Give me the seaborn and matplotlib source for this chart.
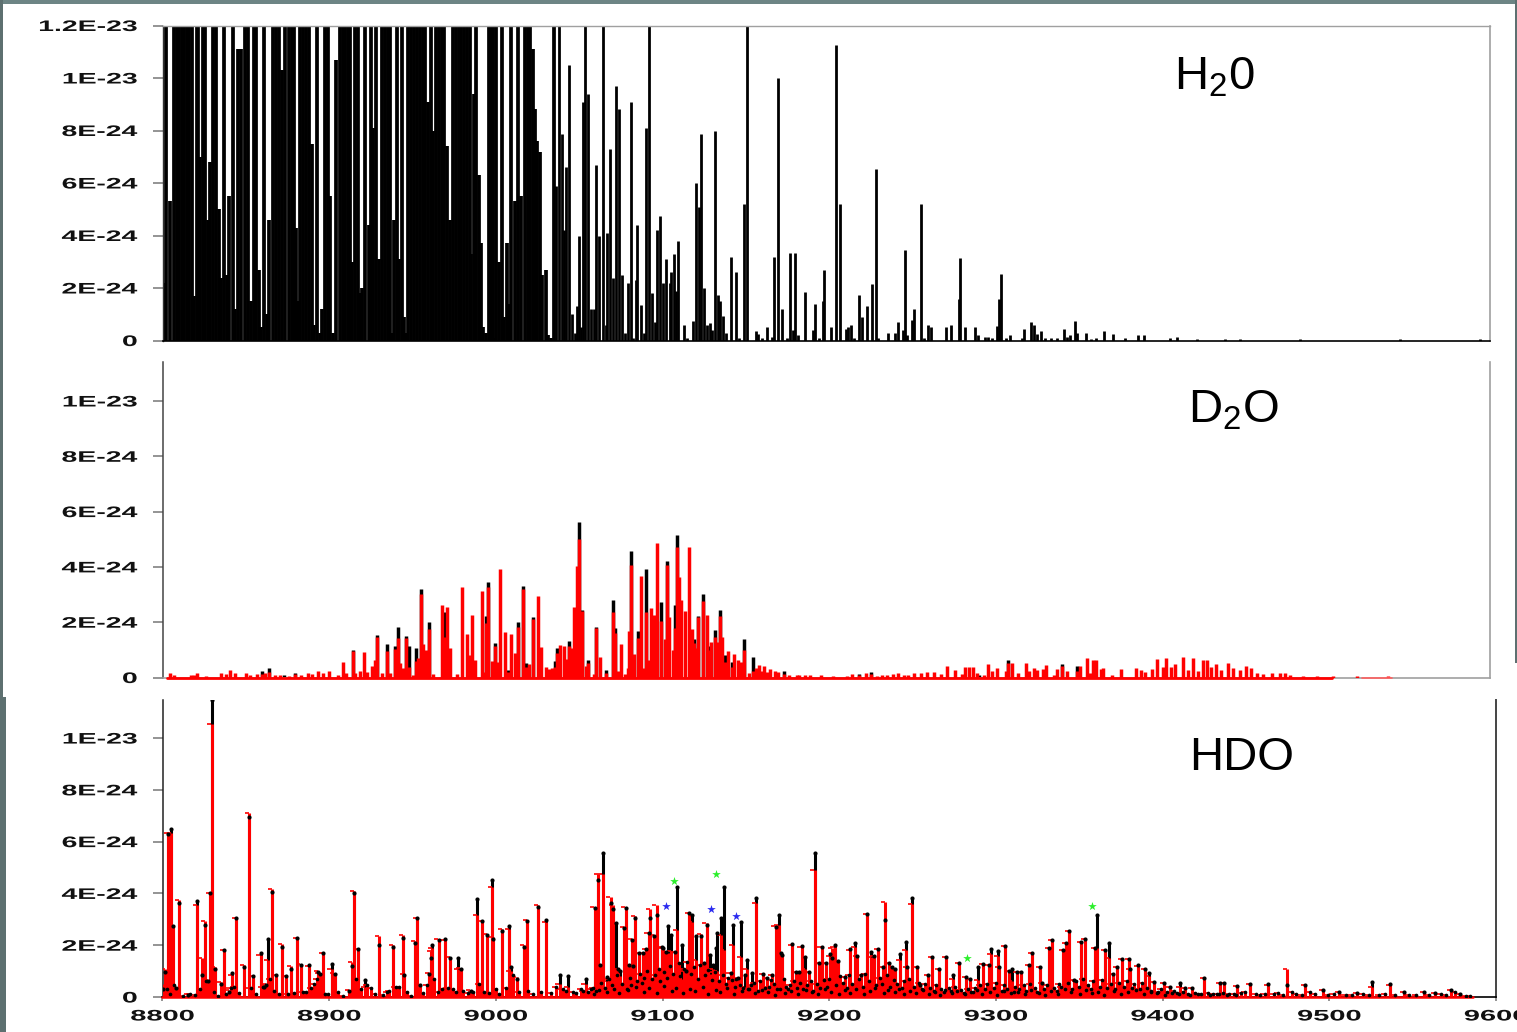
import numpy as np
import pandas as pd
import matplotlib
matplotlib.use("Agg")
import matplotlib.pyplot as plt
from matplotlib.patches import Rectangle
from matplotlib.patheffects import AbstractPathEffect
from matplotlib.transforms import Affine2D
import seaborn as sns

# ---- intensities are in units of 1E-24 ----
Y_TICKS_H2O = [0, 2, 4, 6, 8, 10, 12]
Y_LABELS_H2O = ["0", "2E-24", "4E-24", "6E-24", "8E-24", "1E-23", "1.2E-23"]
Y_TICKS = [0, 2, 4, 6, 8, 10]
Y_LABELS = ["0", "2E-24", "4E-24", "6E-24", "8E-24", "1E-23"]
X_TICKS = [8800, 8900, 9000, 9100, 9200, 9300, 9400, 9500, 9600]
X_LABELS = ["8800", "8900", "9000", "9100", "9200", "9300", "9400", "9500", "9600"]

H2O_wn = [8800.7, 8802.0, 8804.6, 8807.0, 8808.5, 8810.0, 8811.5, 8813.0, 8814.5, 8816.0, 8817.5, 8819.0,
          8820.5, 8821.4, 8822.9, 8824.4, 8825.5, 8827.2, 8828.5, 8830.4, 8832.4, 8833.8, 8835.3, 8837.3,
          8838.8, 8840.3, 8842.2, 8843.7, 8845.2, 8847.4, 8849.5, 8851.7, 8853.4, 8854.9, 8856.6, 8858.4,
          8859.4, 8861.0, 8862.7, 8864.4, 8866.3, 8868.5, 8870.2, 8871.9, 8874.1, 8876.0, 8878.0, 8879.5,
          8880.5, 8881.4, 8883.1, 8884.8, 8886.6, 8888.1, 8889.8, 8891.3, 8893.2, 8895.2, 8896.4, 8898.2,
          8899.7, 8901.0, 8902.5, 8904.6, 8906.8, 8908.5, 8910.2, 8912.0, 8913.0, 8914.5, 8916.2, 8917.7,
          8919.2, 8920.3, 8922.3, 8924.2, 8925.5, 8927.0, 8928.5, 8930.2, 8932.2, 8933.9, 8935.6, 8937.3,
          8938.6, 8939.7, 8941.2, 8942.5, 8944.2, 8945.5, 8946.6, 8948.1, 8949.8, 8951.5, 8953.2, 8955.0,
          8956.7, 8958.4, 8960.1, 8961.6, 8963.1, 8964.8, 8966.5, 8968.3, 8969.8, 8971.7, 8973.2, 8975.0,
          8976.7, 8978.4, 8980.1, 8981.9, 8983.6, 8985.1, 8986.2, 8987.7, 8989.2, 8990.7, 8992.0, 8993.3,
          8995.0, 8996.5, 8998.0, 8999.1, 9000.0, 9001.0, 9003.0, 9004.5, 9005.8, 9007.5, 9009.0, 9010.3,
          9012.5, 9014.4, 9016.2, 9018.2, 9020.0, 9021.4, 9023.0, 9024.5, 9025.6, 9027.2, 9029.0, 9030.9,
          9032.6, 9033.9, 9035.9, 9037.4, 9038.9, 9040.8, 9042.1, 9043.4, 9044.9, 9046.6, 9048.6, 9049.6,
          9050.7, 9052.0, 9053.7, 9054.6, 9056.7, 9058.2, 9060.0, 9061.5, 9063.2, 9065.6, 9067.1, 9067.9,
          9069.4, 9071.4, 9073.5, 9075.2, 9076.7, 9078.5, 9080.4, 9082.3, 9083.8, 9085.1, 9086.2, 9088.4,
          9090.1, 9091.4, 9093.3, 9095.2, 9096.7, 9098.0, 9100.0, 9101.7, 9103.2, 9105.6, 9106.6, 9108.1,
          9109.7, 9110.9, 9114.0, 9116.1, 9119.8, 9121.7, 9123.2, 9124.7, 9126.2, 9128.4, 9129.7, 9131.2,
          9132.7, 9134.6, 9135.9, 9137.6, 9139.6, 9142.6, 9145.6, 9147.7, 9150.5, 9152.5, 9157.4, 9158.7,
          9161.5, 9164.3, 9167.5, 9168.4, 9171.2, 9173.1, 9176.3, 9178.3, 9180.0, 9181.1, 9183.0, 9187.1,
          9191.8, 9193.1, 9195.5, 9198.1, 9198.9, 9202.8, 9205.8, 9208.0, 9211.8, 9213.1, 9214.8, 9217.0,
          9219.6, 9221.7, 9224.5, 9227.5, 9229.7, 9231.2, 9237.4, 9241.3, 9243.4, 9246.0, 9247.3, 9248.6,
          9251.4, 9253.1, 9257.2, 9259.2, 9261.1, 9263.0, 9272.0, 9275.1, 9279.8, 9280.9, 9283.9, 9289.7,
          9291.2, 9295.5, 9297.4, 9299.6, 9302.6, 9304.3, 9305.4, 9308.4, 9310.6, 9318.1, 9319.4, 9323.2,
          9325.4, 9327.1, 9329.3, 9331.6, 9335.3, 9339.2, 9343.2, 9345.0, 9347.1, 9350.1, 9351.2, 9356.8,
          9359.6, 9362.4, 9367.5, 9372.9, 9380.1, 9388.0, 9391.6, 9407.2, 9411.4, 9423.5, 9440.4, 9449.4,
          9485.5, 9545.8, 9594.0]
H2O_int = [2.2, 14, 5.3, 14, 14, 14, 14, 14, 14, 14, 14, 1.7,
           14, 14, 7.0, 14, 14, 4.6, 6.8, 14, 14, 5.0, 2.4, 14,
           2.5, 5.5, 14, 1.2, 11.1, 11.1, 14, 14, 1.5, 14, 14, 2.7,
           0.5, 14, 1.0, 4.6, 14, 14, 14, 10.3, 14, 14, 14, 14,
           4.3, 1.5, 14, 14, 14, 14, 7.5, 0.6, 14, 0.3, 1.2, 14,
           14, 5.5, 0.3, 10.7, 14, 14, 14, 14, 14, 3.0, 14, 14,
           1.8, 2.0, 14, 4.4, 14, 8.1, 14, 3.1, 14, 14, 14, 14,
           0.3, 4.6, 14, 3.1, 14, 0.9, 0.3, 14, 14, 14, 14, 14,
           14, 14, 9.1, 14, 8.0, 14, 14, 14, 14, 7.4, 4.6, 14,
           14, 14, 14, 14, 14, 14, 3.3, 9.4, 14, 6.3, 3.7, 0.5,
           0.3, 14, 14, 14, 0.1, 14, 3.0, 14, 0.9, 3.7, 1.4, 14,
           5.3, 14, 5.5, 14, 14, 14, 11.1, 8.8, 7.6, 7.2, 2.5, 2.7,
           0.2, 0.1, 14, 5.9, 14, 7.85, 4.2, 6.6, 10.5, 1.0, 0.3, 1.3,
           4.0, 0.5, 9.1, 14, 9.4, 1.2, 1.2, 6.7, 4.0, 14, 0.6, 4.1,
           7.3, 2.4, 9.7, 8.8, 2.5, 0.3, 2.2, 9.1, 0.1, 2.3, 4.4, 1.35,
           0.3, 8.1, 14, 1.8, 0.7, 4.2, 4.75, 2.2, 3.1, 2.2, 2.6, 3.3,
           1.9, 3.8, 0.6, 0.1, 0.75, 6.0, 5.1, 7.85, 2.0, 0.6, 0.65, 0.4,
           8.0, 1.75, 1.5, 0.95, 0.3, 3.2, 2.6, 0.1, 5.2, 14, 0.35, 0.25,
           0.1, 0.5, 0.15, 3.2, 10.0, 1.2, 0.1, 3.35, 0.4, 3.35, 0.2, 1.85,
           0.4, 1.4, 0.1, 1.5, 2.7, 0.5, 11.25, 5.2, 0.45, 0.5, 0.6, 0.1,
           1.75, 0.9, 1.3, 2.15, 6.55, 0.1, 0.3, 0.3, 0.7, 0.4, 3.45, 0.2,
           0.8, 1.2, 5.2, 0.1, 0.6, 0.5, 0.5, 0.6, 1.6, 3.15, 0.5, 0.5,
           0.2, 0.15, 0.12, 0.1, 0.55, 1.6, 2.55, 0.1, 0.2, 0.1, 0.45, 0.7,
           0.6, 0.25, 0.35, 0.1, 0.1, 0.1, 0.45, 0.15, 0.2, 0.75, 0.3, 0.3,
           0.07, 0.1, 0.35, 0.25, 0.1, 0.2, 0.2, 0.1, 0.15, 0.06, 0.05, 0.05,
           0.04, 0.04, 0.04]

D2O_wn = [8804.8, 8806.9, 8816.9, 8818.9, 8820.5, 8826.5, 8835.4, 8838.4, 8840.4, 8843.4, 8850.2, 8853.0,
          8857.0, 8860.0, 8862.0, 8864.1, 8867.5, 8870.7, 8876.1, 8879.9, 8883.6, 8887.5, 8890.1, 8893.7,
          8896.6, 8900.6, 8905.8, 8908.6, 8910.6, 8914.6, 8916.2, 8919.2, 8921.3, 8923.3, 8926.3, 8927.9,
          8929.3, 8932.1, 8935.3, 8937.3, 8940.1, 8942.1, 8943.3, 8945.1, 8947.0, 8948.6, 8950.8, 8953.0,
          8954.2, 8955.8, 8957.2, 8959.0, 8960.8, 8962.8, 8968.6, 8970.0, 8971.7, 8973.5, 8977.5, 8980.5,
          8983.7, 8984.9, 8986.5, 8988.5, 8992.5, 8993.9, 8995.1, 8996.4, 8998.6, 9000.4, 9001.6, 9003.4,
          9006.4, 9008.0, 9010.2, 9012.2, 9014.2, 9017.0, 9019.2, 9021.1, 9023.0, 9026.1, 9028.1, 9031.1,
          9033.1, 9034.7, 9036.3, 9037.9, 9039.7, 9041.7, 9043.3, 9044.9, 9046.1, 9047.8, 9049.8, 9050.8,
          9052.8, 9055.4, 9056.6, 9060.2, 9061.4, 9063.6, 9067.2, 9071.5, 9072.7, 9074.3, 9076.5, 9078.5,
          9080.3, 9081.1, 9082.5, 9084.3, 9086.3, 9088.5, 9089.9, 9091.3, 9092.3, 9094.3, 9096.3, 9098.2,
          9100.2, 9102.8, 9104.0, 9105.4, 9107.4, 9108.6, 9110.0, 9111.4, 9112.4, 9114.8, 9117.0, 9119.0,
          9120.2, 9121.0, 9122.9, 9125.9, 9127.9, 9129.3, 9130.7, 9132.7, 9134.1, 9135.7, 9137.1, 9138.9,
          9140.7, 9143.3, 9144.7, 9146.6, 9148.8, 9150.6, 9153.2, 9155.6, 9157.6, 9159.4, 9161.2, 9162.4,
          9164.2, 9166.2, 9169.2, 9171.2, 9174.3, 9177.3, 9182.3, 9183.3, 9187.3, 9190.0, 9196.8, 9203.8,
          9212.8, 9215.6, 9219.7, 9223.7, 9226.7, 9230.5, 9233.5, 9236.5, 9240.1, 9243.2, 9246.6, 9249.0,
          9253.0, 9257.2, 9261.0, 9265.0, 9269.1, 9272.9, 9277.7, 9281.7, 9283.7, 9285.9, 9288.7, 9290.7,
          9294.8, 9297.6, 9299.8, 9302.6, 9308.2, 9309.6, 9312.2, 9315.6, 9320.5, 9322.3, 9325.3, 9327.3,
          9330.9, 9332.3, 9337.0, 9339.1, 9342.2, 9345.0, 9351.0, 9352.9, 9357.0, 9359.2, 9360.6, 9362.4,
          9365.4, 9367.0, 9372.0, 9377.4, 9386.7, 9389.5, 9392.3, 9396.3, 9399.3, 9402.8, 9405.0, 9407.8,
          9410.4, 9415.0, 9418.0, 9421.0, 9424.2, 9427.2, 9429.3, 9431.9, 9435.1, 9437.7, 9442.1, 9445.3,
          9449.5, 9452.7, 9455.8, 9459.4, 9463.4, 9468.4, 9473.4, 9476.4, 9479.5, 9487.5, 9495.5, 9505.6,
          9519.6, 9538.7]
D2O_red = [0.16, 0.08, 0.08, 0.09, 0.17, 0.06, 0.17, 0.12, 0.27, 0.16, 0.17, 0.1,
           0.12, 0.14, 0.16, 0.2, 0.08, 0.08, 0.07, 0.13, 0.1, 0.15, 0.11, 0.22,
           0.15, 0.25, 0.1, 0.55, 0.15, 0.96, 0.15, 0.24, 0.93, 0.19, 0.42, 0.63,
           1.48, 0.17, 0.96, 0.17, 1.03, 1.44, 0.51, 0.33, 1.44, 0.39, 0.09, 0.58,
           0.72, 3.03, 1.21, 0.99, 1.74, 0.11, 2.63, 1.45, 2.55, 1.07, 0.11, 3.27,
           1.56, 0.81, 2.27, 0.62, 3.13, 0.21, 1.98, 3.29, 0.6, 1.14, 0.57, 3.91,
           1.63, 0.19, 1.56, 0.87, 1.84, 3.21, 0.39, 0.48, 2.13, 2.96, 1.1, 0.37,
           0.3, 0.36, 0.39, 0.9, 1.19, 1.15, 0.66, 1.14, 1.05, 2.54, 4.03, 5.0,
           2.41, 0.42, 0.54, 0.12, 1.78, 0.73, 0.16, 2.38, 1.6, 0.22, 1.2, 0.12,
           0.33, 1.69, 4.07, 0.84, 1.44, 3.67, 0.33, 2.38, 0.63, 2.5, 2.26, 4.85,
           2.06, 1.38, 4.07, 2.2, 0.99, 1.79, 4.73, 3.63, 2.8, 2.41, 4.73, 1.75,
           1.24, 1.05, 2.19, 2.77, 2.27, 1.0, 1.27, 1.45, 1.27, 2.22, 1.45, 0.57,
           0.95, 0.39, 0.84, 0.63, 0.57, 0.98, 0.17, 0.24, 0.33, 0.46, 0.25, 0.43,
           0.2, 0.32, 0.22, 0.19, 0.12, 0.08, 0.08, 0.08, 0.09, 0.08, 0.08, 0.05,
           0.06, 0.13, 0.08, 0.16, 0.13, 0.07, 0.09, 0.08, 0.12, 0.16, 0.08, 0.08,
           0.17, 0.17, 0.19, 0.19, 0.14, 0.42, 0.27, 0.12, 0.39, 0.39, 0.39, 0.17,
           0.08, 0.48, 0.22, 0.36, 0.24, 0.54, 0.52, 0.18, 0.54, 0.22, 0.36, 0.28,
           0.3, 0.47, 0.08, 0.3, 0.42, 0.23, 0.22, 0.42, 0.7, 0.16, 0.63, 0.63,
           0.3, 0.36, 0.1, 0.3, 0.36, 0.28, 0.2, 0.3, 0.66, 0.37, 0.72, 0.37,
           0.48, 0.73, 0.28, 0.72, 0.22, 0.64, 0.64, 0.37, 0.5, 0.28, 0.52, 0.34,
           0.28, 0.42, 0.34, 0.18, 0.12, 0.16, 0.16, 0.16, 0.1, 0.06, 0.07, 0.05,
           0.04, 0.05]
D2O_black_wn = [8860.0, 8864.1, 8879.9, 8914.6, 8929.3, 8935.3, 8940.1, 8942.1, 8947.0, 8948.6, 8953.0, 8955.8,
                8960.8, 8970.0, 8995.1, 8996.4, 9000.4, 9008.0, 9014.2, 9017.0, 9019.2, 9023.0, 9036.3, 9037.9,
                9044.9, 9050.8, 9052.8, 9056.6, 9061.4, 9067.2, 9071.5, 9072.7, 9082.5, 9086.3, 9091.3, 9100.2,
                9104.0, 9108.6, 9110.0, 9120.2, 9122.9, 9125.9, 9129.3, 9132.7, 9135.7, 9138.9, 9143.3, 9150.6,
                9155.6, 9174.3, 9219.7, 9226.7, 9309.6, 9342.2, 9351.0, 8873.0, 9292.0]
D2O_black = [0.23, 0.34, 0.16, 0.99, 1.54, 1.21, 1.14, 1.81, 1.5, 1.15, 1.05, 3.2,
             2.0, 2.38, 2.21, 3.44, 1.24, 0.26, 2.0, 3.31, 0.54, 2.18, 0.58, 1.08,
             1.33, 5.64, 2.44, 0.63, 1.81, 0.26, 2.8, 1.8, 4.56, 1.68, 3.91, 2.72,
             4.21, 2.62, 5.15, 1.4, 2.24, 3.02, 1.14, 1.72, 2.45, 0.81, 0.57, 1.4,
             0.73, 0.24, 0.13, 0.2, 0.64, 0.48, 0.42, 0.08, 0.1]

HDO_wn = [8800.5, 8801.4, 8803.5, 8805.0, 8806.1, 8807.8, 8809.9, 8815.3, 8820.9, 8823.9, 8825.4, 8827.1,
          8828.6, 8829.4, 8831.4, 8835.2, 8836.7, 8839.9, 8841.7, 8844.2, 8849.0, 8851.7, 8854.5, 8858.8,
          8861.0, 8862.0, 8863.1, 8865.9, 8867.8, 8871.5, 8873.8, 8877.0, 8880.7, 8882.8, 8887.7, 8893.5,
          8894.2, 8896.5, 8901.4, 8903.2, 8911.7, 8913.7, 8914.9, 8917.1, 8921.4, 8930.0, 8938.5, 8944.1,
          8945.0, 8951.4, 8952.5, 8954.6, 8960.0, 8961.1, 8961.9, 8965.6, 8969.6, 8972.4, 8977.1, 8978.8,
          8984.8, 8988.5, 8991.7, 8994.7, 8997.7, 8998.5, 9003.9, 9007.7, 9008.8, 9012.4, 9016.9, 9018.8,
          9025.3, 9030.2, 9038.2, 9043.5, 9053.8, 9059.2, 9061.2, 9062.4, 9064.0, 9066.4, 9068.8, 9070.2,
          9071.8, 9073.2, 9074.4, 9076.8, 9077.8, 9079.8, 9081.8, 9082.4, 9083.4, 9085.8, 9088.2, 9090.0,
          9091.6, 9092.4, 9094.8, 9096.4, 9099.4, 9100.2, 9101.8, 9103.4, 9105.2, 9107.4, 9108.8, 9111.6,
          9113.8, 9115.8, 9117.8, 9120.0, 9123.2, 9124.8, 9126.4, 9128.4, 9130.4, 9132.0, 9132.8, 9135.2,
          9137.0, 9140.8, 9142.4, 9145.2, 9147.2, 9149.2, 9150.8, 9153.8, 9156.0, 9160.2, 9162.8, 9165.8,
          9167.8, 9169.6, 9170.8, 9171.8, 9177.8, 9179.8, 9181.8, 9183.4, 9185.4, 9187.8, 9191.2, 9193.6,
          9195.4, 9197.8, 9200.4, 9201.8, 9203.2, 9205.0, 9209.7, 9212.7, 9215.3, 9216.7, 9219.1, 9222.7,
          9225.3, 9226.7, 9229.1, 9232.1, 9233.7, 9235.7, 9237.7, 9239.7, 9242.3, 9246.1, 9246.7, 9249.7,
          9252.5, 9254.7, 9259.1, 9261.7, 9265.7, 9270.3, 9274.1, 9277.7, 9282.3, 9284.7, 9289.1, 9292.1,
          9295.7, 9297.3, 9301.1, 9302.1, 9305.7, 9307.7, 9309.7, 9312.7, 9315.3, 9319.7, 9321.7, 9326.3,
          9327.7, 9332.1, 9333.7, 9340.3, 9342.1, 9344.1, 9346.7, 9351.3, 9353.3, 9359.7, 9360.9, 9365.7,
          9368.1, 9370.1, 9372.7, 9375.7, 9379.7, 9380.7, 9385.1, 9389.7, 9391.7, 9395.1, 9400.7, 9404.7,
          9410.3, 9413.7, 9417.7, 9425.1, 9434.7, 9437.1, 9444.7, 9452.3, 9463.1, 9474.9, 9485.7, 9496.3,
          9505.7, 9516.7, 9525.7, 9536.3, 9544.7, 9556.7, 9563.7, 9573.3, 9578.7]
HDO_red = [0.5, 1.07, 6.35, 6.35, 2.7, 0.4, 3.76, 0.12, 3.57, 1.5, 2.92, 0.66,
           4.0, 10.56, 1.15, 0.57, 1.82, 0.27, 0.85, 3.05, 1.23, 7.1, 0.81, 1.63,
           0.47, 0.5, 1.44, 4.18, 0.85, 2.06, 0.81, 1.18, 2.28, 1.27, 1.18, 1.02,
           0.92, 1.69, 1.07, 0.94, 0.27, 1.37, 4.11, 1.85, 0.4, 2.34, 1.99, 2.39,
           0.9, 2.15, 3.05, 0.47, 0.92, 1.79, 1.9, 2.25, 2.21, 1.53, 1.1, 1.11,
           0.27, 3.18, 2.95, 2.45, 4.26, 2.3, 2.64, 2.64, 1.0, 0.76, 2.02, 2.99,
           3.57, 2.9, 0.5, 0.4, 0.49, 3.49, 4.75, 1.23, 4.75, 0.6, 3.87, 3.55,
           1.1, 1.07, 0.8, 2.7, 3.49, 1.24, 2.23, 1.2, 3.13, 1.71, 1.71, 1.85,
           2.46, 3.38, 2.4, 3.55, 1.94, 1.88, 1.75, 1.69, 1.77, 1.73, 2.59, 0.7,
           1.0, 3.26, 2.9, 1.43, 2.43, 1.3, 2.84, 0.9, 1.1, 1.0, 1.0, 2.39,
           1.8, 0.94, 2.0, 0.72, 1.56, 0.4, 1.1, 0.4, 3.64, 0.89, 0.75, 0.85,
           2.74, 2.78, 1.69, 1.62, 2.0, 0.98, 0.98, 1.92, 1.1, 0.98, 4.9, 1.33,
           1.92, 1.3, 1.6, 1.9, 1.95, 1.4, 0.76, 1.8, 1.95, 1.58, 0.85, 3.19,
           1.56, 1.58, 1.85, 1.15, 3.68, 1.3, 1.15, 1.1, 1.43, 1.81, 1.15, 3.58,
           1.15, 0.46, 0.85, 1.56, 1.1, 1.53, 0.7, 1.3, 0.76, 0.7, 0.66, 1.26,
           1.24, 1.66, 1.58, 1.15, 1.97, 1.0, 0.6, 0.98, 0.98, 1.24, 1.71, 1.17,
           0.53, 1.88, 2.2, 1.81, 2.1, 2.56, 0.66, 2.14, 2.23, 1.88, 1.9, 1.81,
           1.5, 0.89, 1.15, 1.45, 1.45, 1.07, 1.21, 1.1, 0.8, 0.59, 0.53, 0.4,
           0.4, 0.33, 0.33, 0.72, 0.55, 0.55, 0.42, 0.5, 0.45, 1.07, 0.46, 0.27,
           0.18, 0.17, 0.4, 0.45, 0.18, 0.18, 0.14, 0.27, 0.1]
HDO_black = [0.3, 0.98, 6.3, 6.48, 2.73, 0.35, 3.64, 0.08, 3.7, 0.85, 2.79, 0.6,
             4.0, 11.46, 1.1, 0.5, 1.8, 0.2, 0.92, 3.05, 1.15, 6.97, 0.81, 1.69,
             0.4, 0.45, 2.25, 4.05, 0.85, 1.93, 0.8, 1.07, 2.28, 1.24, 1.23, 0.95,
             0.9, 1.69, 1.28, 0.9, 0.25, 1.2, 4.02, 1.85, 0.66, 2.02, 1.95, 2.28,
             0.85, 2.08, 3.05, 0.45, 0.9, 1.5, 2.02, 2.21, 2.25, 1.5, 1.5, 1.1,
             0.25, 3.8, 2.92, 2.4, 4.51, 2.25, 2.56, 2.73, 1.15, 0.7, 1.95, 2.95,
             3.48, 2.99, 0.85, 0.83, 0.68, 3.45, 4.5, 1.23, 5.57, 0.79, 3.64, 3.38,
             2.84, 1.07, 1.02, 2.68, 3.42, 1.24, 2.2, 1.2, 3.04, 1.71, 1.71, 1.85,
             2.46, 3.04, 2.35, 3.17, 1.94, 1.88, 1.75, 2.74, 2.39, 1.73, 4.23, 2.0,
             1.0, 3.26, 3.17, 2.36, 2.36, 1.3, 2.78, 1.62, 1.24, 1.88, 2.48, 3.04,
             4.26, 0.94, 2.78, 0.72, 2.91, 0.85, 1.43, 0.94, 3.84, 0.89, 0.75, 0.85,
             2.7, 3.17, 1.69, 1.62, 2.05, 0.98, 0.98, 1.97, 1.56, 0.98, 5.57, 1.33,
             1.92, 1.3, 1.66, 1.5, 2.0, 1.4, 0.76, 1.87, 2.1, 1.58, 0.85, 3.19,
             1.72, 1.58, 1.85, 1.15, 2.99, 1.3, 1.15, 1.1, 1.66, 2.14, 1.15, 3.84,
             1.15, 0.46, 0.85, 1.56, 1.1, 1.53, 0.85, 1.3, 0.76, 0.7, 1.15, 1.26,
             1.24, 1.85, 1.79, 1.15, 1.97, 1.0, 1.1, 0.98, 0.98, 1.24, 1.71, 1.17,
             0.53, 1.88, 2.2, 1.81, 2.1, 2.56, 0.66, 2.14, 2.23, 1.88, 3.17, 1.81,
             2.07, 0.89, 1.15, 1.45, 1.45, 1.07, 1.24, 1.1, 0.91, 0.59, 0.53, 0.4,
             0.53, 0.33, 0.33, 0.72, 0.55, 0.55, 0.42, 0.5, 0.5, 0.45, 0.46, 0.27,
             0.18, 0.17, 0.59, 0.5, 0.18, 0.18, 0.14, 0.27, 0.1]

# low-lying HDO lines (read as an envelope with individual bumps)
GRASS_wn = [8802.6, 8804.2, 8807.0, 8812.0, 8816.5, 8819.5, 8822.5, 8826.0, 8830.6, 8833.2, 8838.0, 8840.8,
            8843.0, 8846.0, 8852.8, 8856.0, 8860.0, 8864.5, 8866.8, 8870.0, 8875.0, 8879.0, 8884.5, 8886.0,
            8889.0, 8891.0, 8892.5, 8897.5, 8899.0, 8905.0, 8908.0, 8915.8, 8919.0, 8922.8, 8925.0, 8927.5,
            8932.0, 8934.5, 8936.0, 8939.8, 8942.0, 8946.5, 8949.0, 8956.0, 8958.5, 8963.0, 8965.0, 8967.5,
            8971.0, 8974.0, 8976.0, 8980.0, 8983.0, 8986.0, 8990.0, 8993.0, 8996.0, 9000.0, 9002.0, 9006.0,
            9010.0, 9014.0, 9019.0, 9022.0, 9027.0, 9033.0, 9036.0, 9040.0, 9042.0, 9046.0, 9048.0, 9051.0,
            9052.4, 9055.2, 9056.8, 9058.1, 9060.3, 9063.0, 9065.4, 9067.6, 9069.5, 9072.5, 9075.6, 9078.7,
            9080.6, 9081.0, 9084.6, 9086.7, 9087.5, 9089.1, 9090.9, 9093.6, 9095.7, 9097.6, 9098.4, 9101.0,
            9102.6, 9104.3, 9106.2, 9109.8, 9110.7, 9112.7, 9114.8, 9116.9, 9118.9, 9121.3, 9122.2, 9125.6,
            9127.5, 9129.4, 9131.2, 9133.9, 9136.1, 9138.2, 9139.5, 9141.6, 9143.5, 9144.3, 9146.2, 9148.3,
            9151.9, 9152.9, 9154.9, 9157.1, 9158.6, 9161.4, 9163.9, 9164.8, 9166.9, 9168.7, 9172.9, 9174.1,
            9175.4, 9176.6, 9178.8, 9180.8, 9182.6, 9184.4, 9186.6, 9188.9, 9190.1, 9192.4, 9194.5, 9196.6,
            9198.9, 9199.6, 9204.1, 9206.3, 9208.2, 9210.9, 9211.8, 9213.9, 9217.9, 9220.3, 9221.4, 9223.9,
            9228.0, 9230.6, 9231.4, 9234.6, 9236.6, 9238.6, 9240.8, 9243.6, 9244.8, 9247.9, 9250.8, 9253.9,
            9255.9, 9257.4, 9260.3, 9262.9, 9264.3, 9267.1, 9268.6, 9271.8, 9272.9, 9275.6, 9279.3, 9280.8,
            9283.5, 9286.2, 9287.6, 9290.3, 9293.7, 9294.6, 9298.8, 9299.9, 9303.4, 9304.6, 9306.8, 9310.8,
            9311.7, 9314.1, 9316.6, 9318.3, 9320.6, 9323.2, 9324.9, 9328.9, 9330.6, 9334.9, 9336.4, 9338.1,
            9339.3, 9343.1, 9345.6, 9348.1, 9349.9, 9352.2, 9355.1, 9356.9, 9358.4, 9362.3, 9363.6, 9366.8,
            9369.2, 9371.3, 9374.1, 9376.9, 9378.4, 9381.8, 9383.1, 9386.7, 9387.9, 9390.6, 9393.3, 9397.2,
            9399.1, 9402.4, 9406.6, 9408.8, 9412.2, 9415.4, 9419.7, 9422.9, 9427.1, 9430.4, 9432.6, 9436.2,
            9439.7, 9442.8, 9446.9, 9449.3, 9455.8, 9458.6, 9461.2, 9466.7, 9469.4, 9472.1, 9477.6, 9480.3,
            9483.4, 9488.2, 9491.5, 9499.3, 9502.6, 9509.8, 9513.4, 9520.1, 9523.6, 9529.8, 9533.4, 9539.6,
            9547.8, 9552.1, 9559.9, 9566.8, 9570.2, 9575.7, 9581.9, 9584.7]
GRASS = [0.3, 0.1, 0.45, 0.05, 0.1, 0.08, 0.3, 0.6, 0.2, 0.05, 0.1, 0.35,
         0.4, 0.15, 0.35, 0.1, 0.4, 0.7, 0.25, 0.1, 0.12, 0.15, 0.2, 0.2,
         0.35, 0.5, 0.7, 0.1, 0.1, 0.2, 0.05, 0.7, 0.3, 0.45, 0.35, 0.1,
         0.08, 0.2, 0.25, 0.4, 0.4, 0.2, 0.05, 0.15, 0.45, 0.7, 0.2, 0.3,
         0.35, 0.3, 0.2, 0.25, 0.15, 0.2, 0.5, 0.2, 0.15, 0.3, 0.1, 0.35,
         0.85, 0.2, 0.25, 0.1, 0.2, 0.15, 0.4, 0.3, 0.25, 0.2, 0.15, 0.3,
         0.25, 0.18, 0.3, 0.35, 0.22, 0.55, 0.35, 0.7, 0.45, 0.85, 0.5, 0.3,
         0.75, 0.45, 0.6, 0.9, 0.55, 0.75, 1.0, 0.7, 0.85, 1.1, 0.6, 0.95,
         0.75, 1.2, 0.9, 1.3, 0.8, 1.1, 1.35, 0.9, 1.15, 0.7, 1.25, 0.85,
         1.05, 0.65, 0.95, 0.6, 0.85, 0.5, 0.75, 0.65, 0.4, 0.7, 0.45, 0.35,
         0.3, 0.45, 0.55, 0.25, 0.6, 0.35, 0.4, 0.65, 0.5, 0.3, 0.7, 0.4,
         0.3, 0.45, 0.6, 0.35, 0.55, 0.3, 0.45, 0.6, 0.25, 0.5, 0.35, 0.65,
         0.4, 0.7, 0.45, 0.8, 0.55, 0.35, 0.85, 0.5, 0.7, 0.4, 0.9, 0.6,
         0.45, 0.75, 0.5, 0.85, 0.4, 0.65, 0.5, 0.35, 0.6, 0.7, 0.4, 0.55,
         0.3, 0.5, 0.35, 0.25, 0.45, 0.3, 0.2, 0.35, 0.25, 0.4, 0.28, 0.15,
         0.3, 0.2, 0.35, 0.45, 0.3, 0.5, 0.35, 0.55, 0.25, 0.45, 0.3, 0.2,
         0.4, 0.3, 0.45, 0.25, 0.5, 0.35, 0.2, 0.3, 0.45, 0.35, 0.25, 0.5,
         0.4, 0.55, 0.3, 0.6, 0.4, 0.7, 0.45, 0.3, 0.6, 0.4, 0.65, 0.35,
         0.5, 0.3, 0.55, 0.4, 0.6, 0.35, 0.5, 0.3, 0.55, 0.35, 0.25, 0.2,
         0.3, 0.18, 0.25, 0.15, 0.2, 0.12, 0.17, 0.1, 0.15, 0.12, 0.1, 0.17,
         0.12, 0.1, 0.14, 0.2, 0.12, 0.08, 0.13, 0.1, 0.15, 0.08, 0.2, 0.1,
         0.08, 0.18, 0.1, 0.07, 0.13, 0.09, 0.06, 0.1, 0.07, 0.08, 0.12, 0.07,
         0.06, 0.08, 0.09, 0.12, 0.07, 0.2, 0.05, 0.04]

# the very weakest HDO lines, that make the dark speckle along the base
LOW_wn = [9058.9, 9062.1, 9066.8, 9070.9, 9074.1, 9079.3, 9083.9, 9088.6, 9092.1, 9096.9, 9100.9, 9105.9,
          9108.2, 9112.1, 9116.2, 9119.4, 9124.1, 9127.1, 9131.8, 9134.6, 9138.8, 9142.9, 9147.7, 9151.2,
          9155.4, 9159.7, 9163.2, 9167.2, 9170.3, 9173.4, 9177.2, 9181.3, 9185.8, 9189.4, 9193.0, 9197.2,
          9201.1, 9205.6, 9209.2, 9212.2, 9216.2, 9220.9, 9224.6, 9227.2, 9232.8, 9235.2, 9239.2, 9241.9,
          9245.1, 9248.7, 9252.1, 9256.5, 9259.8, 9263.6, 9266.2, 9269.7, 9273.4, 9276.8, 9281.7, 9285.1,
          9288.4, 9291.6, 9296.2, 9300.6, 9305.0, 9308.8, 9313.2, 9317.5, 9321.1, 9325.7, 9329.5, 9333.1,
          9337.4, 9341.2, 9344.8, 9350.5, 9354.2, 9357.7, 9361.5, 9365.1, 9370.8, 9374.9, 9379.0, 9384.3,
          9388.6, 9392.8, 9396.5, 9401.2, 9405.6, 9409.9, 9416.4, 9421.3, 9428.2, 9433.7, 9438.4, 9444.1]
LOW = [0.12, 0.28, 0.18, 0.32, 0.15, 0.26, 0.38, 0.2, 0.34, 0.14, 0.42, 0.24,
       0.36, 0.16, 0.3, 0.22, 0.4, 0.12, 0.28, 0.18, 0.34, 0.1, 0.24, 0.32,
       0.14, 0.26, 0.2, 0.08, 0.3, 0.16, 0.24, 0.1, 0.28, 0.18, 0.12, 0.32,
       0.2, 0.1, 0.26, 0.16, 0.3, 0.12, 0.22, 0.34, 0.14, 0.26, 0.18, 0.3,
       0.1, 0.24, 0.16, 0.28, 0.12, 0.2, 0.08, 0.26, 0.14, 0.22, 0.1, 0.18,
       0.26, 0.12, 0.2, 0.08, 0.24, 0.14, 0.18, 0.1, 0.28, 0.16, 0.08, 0.22,
       0.12, 0.3, 0.18, 0.1, 0.26, 0.14, 0.2, 0.08, 0.24, 0.12, 0.18, 0.26,
       0.1, 0.2, 0.14, 0.08, 0.16, 0.1, 0.06, 0.12, 0.08, 0.1, 0.06, 0.08]

STAR_GREEN_wn = [9107.1, 9132.3, 9282.9, 9357.9]
STAR_GREEN = [4.48, 4.75, 1.5, 3.51]
STAR_BLUE_wn = [9102.3, 9129.3, 9144.3]
STAR_BLUE = [3.51, 3.4, 3.13]


# ---- styling ----
sns.set_theme(style="white")
plt.rcParams["font.family"] = ["Liberation Sans", "DejaVu Sans"]
plt.rcParams["mathtext.default"] = "regular"

W, H = 1517, 1032
fig = plt.figure(figsize=(W / 100, H / 100), dpi=100, facecolor="white")


class Widen(AbstractPathEffect):
    """The tick labels of the source are stretched sideways."""

    def __init__(self, factor, anchor):
        super().__init__()
        self.factor, self.anchor = factor, anchor

    def draw_path(self, renderer, gc, tpath, affine, rgbFace=None):
        box = tpath.get_extents()
        a = box.x1 if self.anchor == "right" else 0.5 * (box.x0 + box.x1)
        stretch = Affine2D().translate(-a, 0).scale(self.factor, 1).translate(a, 0)
        renderer.draw_path(gc, tpath, stretch + affine, rgbFace)


def px_axes(left, top, right, bottom):
    return fig.add_axes([left / W, 1 - bottom / H, (right - left) / W, (bottom - top) / H])


def stems(ax, wn, values, color, lw, z):
    n = len(wn)
    frame = pd.DataFrame({
        "wn": np.repeat(wn, 2),
        "i": np.ravel(np.column_stack([np.zeros(n), values])),
        "peak": np.repeat(np.arange(n), 2),
    })
    sns.lineplot(data=frame, x="wn", y="i", units="peak", estimator=None, sort=False,
                 color=color, lw=lw, ax=ax, legend=False, zorder=z,
                 solid_capstyle="butt", errorbar=None)


def baseline(ax, x0, x1, color, lw, z):
    frame = pd.DataFrame({"wn": [x0, x1], "i": [0.0, 0.0]})
    line = sns.lineplot(data=frame, x="wn", y="i", color=color, lw=lw, ax=ax,
                        legend=False, zorder=z, errorbar=None)
    line.lines[-1].set_clip_on(False)


def finish(ax, ymax, yticks, ylabels, spines):
    ax.set_xlim(8800, 9600)
    ax.set_ylim(0, ymax)
    ax.set_xlabel("")
    ax.set_ylabel("")
    ax.set_yticks(yticks)
    ax.set_yticklabels(ylabels, fontweight="bold", fontsize=11, color="#111111",
                       path_effects=[Widen(1.86, "right")])
    ax.tick_params(axis="y", left=True, length=7.2, width=1.1, color="#777777", pad=11)
    ax.patch.set_alpha(0)
    for name, (visible, color, lw) in spines.items():
        ax.spines[name].set_visible(visible)
        ax.spines[name].set_color(color)
        ax.spines[name].set_linewidth(lw)


# H2O: the packed region and the open region have visibly different stem weights
ax1 = px_axes(162.5, 25.5, 1490, 340.5)
h_wn, h_int = np.array(H2O_wn), np.array(H2O_int)
packed = h_wn < 9036
stems(ax1, h_wn[packed], h_int[packed], "black", 2.7, 2)
stems(ax1, h_wn[~packed], h_int[~packed], "black", 2.0, 2)
finish(ax1, 12, Y_TICKS_H2O, Y_LABELS_H2O,
       {"top": (True, "#a0a0a0", 1.0), "right": (True, "#a0a0a0", 1.2),
        "left": (True, "#333333", 1.0), "bottom": (True, "black", 1.2)})
ax1.set_xticks([])

# D2O
ax2 = px_axes(162.5, 362, 1490, 677.5)
stems(ax2, D2O_black_wn, D2O_black, "black", 2.5, 2)
stems(ax2, D2O_wn, D2O_red, "#ff0000", 2.5, 3)
baseline(ax2, 8803, 9505, "#ff0000", 2.0, 4)
baseline(ax2, 9523, 9541, "#ff6060", 1.2, 4)
finish(ax2, 11.41, Y_TICKS, Y_LABELS,
       {"top": (False, "white", 1), "right": (True, "#a0a0a0", 1.2),
        "left": (True, "#444444", 1.1), "bottom": (True, "#a0a0a0", 1.2)})
ax2.set_xticks([])

# HDO
ax3 = px_axes(162.5, 700, 1496, 997)
stems(ax3, HDO_wn, HDO_black, "black", 2.2, 2)
stems(ax3, GRASS_wn, GRASS, "#ff0000", 2.2, 3)
stems(ax3, LOW_wn, LOW, "#ff0000", 2.2, 3)
stems(ax3, HDO_wn, HDO_red, "#ff0000", 2.2, 3)
baseline(ax3, 8800, 9586, "#ff0000", 1.8, 4)
all_red_x = np.array(HDO_wn + GRASS_wn) - 1.3
all_red_y = np.array(HDO_red + GRASS)
sns.scatterplot(x=all_red_x, y=all_red_y, marker="_", s=11, color="#ff0000",
                linewidth=1.2, ax=ax3, zorder=4, legend=False)
sns.scatterplot(x=np.array(HDO_wn), y=np.array(HDO_black), marker="o", s=9, color="black",
                linewidth=0, ax=ax3, zorder=5, legend=False)
sns.scatterplot(x=np.array(GRASS_wn), y=np.array(GRASS), marker="o", s=7, color="black",
                linewidth=0, ax=ax3, zorder=5, legend=False)
sns.scatterplot(x=np.array(LOW_wn), y=np.array(LOW), marker="o", s=7, color="black",
                linewidth=0, ax=ax3, zorder=5, legend=False)
sns.scatterplot(x=STAR_GREEN_wn, y=STAR_GREEN, marker="*", s=42, color="#2bef2b",
                linewidth=0, ax=ax3, zorder=6, legend=False)
sns.scatterplot(x=STAR_BLUE_wn, y=STAR_BLUE, marker="*", s=42, color="#2a2af0",
                linewidth=0, ax=ax3, zorder=6, legend=False)
finish(ax3, 11.47, Y_TICKS, Y_LABELS,
       {"top": (False, "white", 1), "right": (True, "#444444", 1.4),
        "left": (True, "#222222", 1.1), "bottom": (True, "black", 1.2)})
ax3.set_xticks(X_TICKS)
ax3.set_xticklabels(X_LABELS, fontweight="bold", fontsize=11, color="#111111",
                    path_effects=[Widen(1.9, "center")])
ax3.tick_params(axis="x", bottom=True, length=3, width=1.1, color="#777777", pad=6)
for lab in ax3.get_xticklabels():
    lab.set_clip_on(False)

# Panel captions
fig.text(1174 / W, 1 - 89.5 / H, "H$_2$0", fontsize=34, color="black", va="baseline")
fig.text(1188 / W, 1 - 422 / H, "D$_2$O", fontsize=34, color="black", va="baseline")
fig.text(1189 / W, 1 - 769.5 / H, "HDO", fontsize=34, color="black", va="baseline")

# Slide background showing around the pasted picture
BG = "#5d7070"
for (x0, y0, x1, y1), c in [((0, 0, W, 3.5), "#6d8585"), ((0, 0, 3, 697), BG),
                            ((0, 697, 5.5, H), BG), ((W - 2, 0, W, 663), BG)]:
    fig.add_artist(Rectangle((x0 / W, 1 - y1 / H), (x1 - x0) / W, (y1 - y0) / H,
                             transform=fig.transFigure, facecolor=c, edgecolor="none"))

fig.savefig("out.png", dpi=100, facecolor="white")
